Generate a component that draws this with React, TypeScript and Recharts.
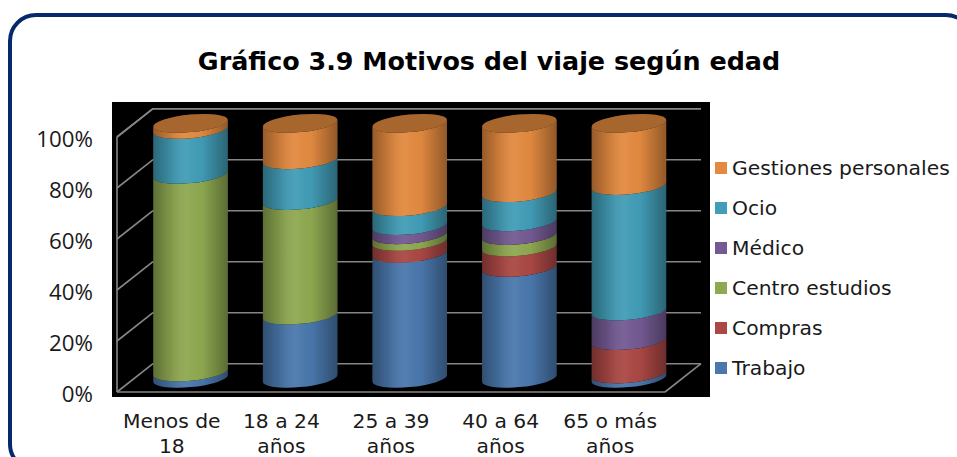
import React from 'react';
import { BarChart, Bar, XAxis, YAxis, CartesianGrid, Legend } from 'recharts';

const ageGroups = ['Menos de 18', '18 a 24 años', '25 a 39 años', '40 a 64 años', '65 o más años'];
const trabajo = [2.5, 24.8, 49, 43.5, 1.7];
const compras = [0, 0, 4.7, 8, 13.1];
const centroEstudios = [77.5, 44.9, 2.6, 4.5, 0];
const medico = [0, 0, 3.6, 5.4, 11.6];
const ocio = [17.6, 16, 7.4, 11.4, 49.2];
const gestiones = [2.4, 14.3, 32.7, 27.2, 24.4];
const percentTicks = [0, 20, 40, 60, 80, 100];

const seriesList = [
  { name: 'Trabajo', values: trabajo, color: '#4a78ad' },
  { name: 'Compras', values: compras, color: '#ab4845' },
  { name: 'Centro estudios', values: centroEstudios, color: '#8fa951' },
  { name: 'Médico', values: medico, color: '#745a93' },
  { name: 'Ocio', values: ocio, color: '#429db7' },
  { name: 'Gestiones personales', values: gestiones, color: '#e38a40' },
];

const chartData = ageGroups.map((group, i) => {
  const row: Record<string, string | number> = { group };
  seriesList.forEach((s) => {
    row[s.name] = s.values[i];
  });
  return row;
});

const FONT = '"DejaVu Sans", Verdana, sans-serif';
const LABEL_SIZE = 20.3;
const WALL = '#868686';

// fake 3D: walls sit behind the plot, cylinders stand half way in
const DEPTH_X = 36;
const DEPTH_Y = 28.3;
const MID_X = 18.3;
const MID_Y = 13.7;
const ELLIPSE_RY = 8.8;
const TILT = -0.0895;

function Cylinder(props: any) {
  const { x, y, width, height, fill, isTop } = props;
  if (!(height > 0.1)) return null;
  const rx = width / 2;
  const top = y - MID_Y;
  const bottom = y + height - MID_Y;
  const ry = ELLIPSE_RY;
  const cx = x + rx + MID_X;
  const band = `M ${-rx} ${bottom} A ${rx} ${ry} 0 0 0 ${rx} ${bottom} L ${rx} ${top} A ${rx} ${ry} 0 0 1 ${-rx} ${top} Z`;
  return (
    <g transform={`matrix(1 ${TILT} 0 1 ${cx} 0)`}>
      <path d={band} fill={fill} />
      <path d={band} fill="url(#cylinderShade)" />
      {isTop && (
        <>
          <ellipse cx={0} cy={top} rx={rx} ry={ry} fill={fill} />
          <ellipse cx={0} cy={top} rx={rx} ry={ry} fill="#000" fillOpacity={0.26} />
        </>
      )}
    </g>
  );
}

// each grid line runs along the back wall and comes forward on the left wall
function WallLine(props: any) {
  const { x1, x2, y1, index } = props;
  const backY = y1 - DEPTH_Y;
  return (
    <g key={index} stroke={WALL} strokeWidth={1.6} fill="none">
      <line x1={x1} y1={y1} x2={x1 + DEPTH_X} y2={backY} />
      <line x1={x1 + DEPTH_X} y1={backY} x2={x2 + DEPTH_X} y2={backY} />
      {index === 0 && <line x1={x2} y1={y1} x2={x2 + DEPTH_X} y2={backY} />}
    </g>
  );
}

// last word always drops to a second line
function AgeTick(props: any) {
  const { x, y, payload } = props;
  const words = String(payload.value).split(' ');
  const last = words.pop();
  return (
    <text x={x} y={y} textAnchor="middle" fontFamily={FONT} fontSize={LABEL_SIZE} fill="#1a1a1a">
      <tspan x={x} dy={14}>{words.join(' ')}</tspan>
      <tspan x={x} dy={25}>{last}</tspan>
    </text>
  );
}

function MotivoLegend({ payload }: any) {
  const rows = [...(payload ?? [])].reverse();
  return (
    <div style={{ fontFamily: FONT, fontSize: LABEL_SIZE, color: '#1a1a1a' }}>
      {rows.map((entry: any) => (
        <div key={entry.value} style={{ height: 40, display: 'flex', alignItems: 'center', whiteSpace: 'nowrap' }}>
          <span style={{ width: 12, height: 12, background: entry.color, marginRight: 5, flex: 'none' }} />
          {entry.value}
        </div>
      ))}
    </div>
  );
}

export default function App() {
  return (
    <div style={{ position: 'fixed', left: 0, top: 0, width: 957, height: 457, overflow: 'hidden', background: '#fff' }}>
      <div
        style={{
          position: 'absolute',
          left: 7.5,
          top: 12.5,
          width: 958,
          height: 451,
          border: '4px solid #04296d',
          borderRadius: 28,
        }}
      />
      <div
        style={{
          position: 'absolute',
          left: 0,
          width: 978,
          top: 44,
          textAlign: 'center',
          fontFamily: FONT,
          fontSize: 25.4,
          fontWeight: 'bold',
          lineHeight: '34px',
          color: '#000',
        }}
      >
        Gráfico 3.9 Motivos del viaje según edad
      </div>
      <div style={{ position: 'absolute', left: 112, top: 102, width: 598, height: 295, background: '#000' }} />
      <div style={{ position: 'absolute', left: 0, top: 0 }}>
        <BarChart
          width={957}
          height={457}
          data={chartData}
          margin={{ top: 137, right: 292, bottom: 19, left: 17 }}
          barSize={74.5}
        >
          <defs>
            <linearGradient id="cylinderShade" x1="0" y1="0" x2="1" y2="0">
              <stop offset="0%" stopColor="#000" stopOpacity={0.34} />
              <stop offset="22%" stopColor="#000" stopOpacity={0.12} />
              <stop offset="45%" stopColor="#fff" stopOpacity={0.05} />
              <stop offset="65%" stopColor="#000" stopOpacity={0.02} />
              <stop offset="100%" stopColor="#000" stopOpacity={0.36} />
            </linearGradient>
          </defs>
          <CartesianGrid vertical={false} horizontal={WallLine} />
          <XAxis
            dataKey="group"
            axisLine={{ stroke: WALL, strokeWidth: 1.6 }}
            tickLine={false}
            interval={0}
            height={46}
            tickMargin={16}
            tick={<AgeTick />}
          />
          <YAxis
            width={100}
            domain={[0, 100]}
            ticks={percentTicks}
            tickFormatter={(v: number) => `${v}%`}
            axisLine={{ stroke: WALL, strokeWidth: 1.6 }}
            tickLine={false}
            tickMargin={18}
            tick={{ fontFamily: '"Open Sans", sans-serif', fontSize: 22.3, fill: '#1a1a1a', dy: 2 }}
          />
          {seriesList.map((s, i) => (
            <Bar
              key={s.name}
              dataKey={s.name}
              stackId="motivos"
              fill={s.color}
              isAnimationActive={false}
              shape={(p: any) => <Cylinder {...p} isTop={i === seriesList.length - 1} />}
            />
          ))}
          <Legend
            layout="vertical"
            align="center"
            verticalAlign="middle"
            itemSorter={null}
            content={<MotivoLegend />}
            wrapperStyle={{ left: 715, top: 148, width: 240 }}
          />
        </BarChart>
      </div>
    </div>
  );
}
